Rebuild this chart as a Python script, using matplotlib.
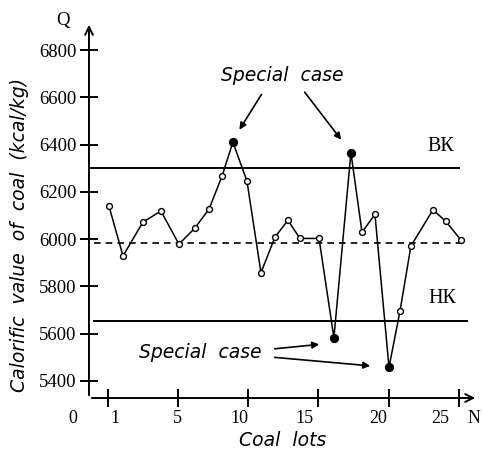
import numpy as np
import matplotlib
matplotlib.use('Agg')
import matplotlib.pyplot as plt

# coal lot numbers and where each one sits along the (hand drawn) x axis
lots = np.arange(1, 26)
lot_pos = [0.09, 1.09, 2.51, 3.79, 5.07, 6.21, 7.21, 8.13, 8.91, 9.91,
           10.91, 11.90, 12.83, 13.68, 15.04, 16.10, 17.31, 18.10, 19.02, 20.02,
           20.80, 21.58, 23.15, 24.07, 25.14]
calorific = [6140, 5929, 6072, 6119, 5979, 6047, 6127, 6265, 6410, 6246,
             5858, 6008, 6080, 6003, 6003, 5583, 6366, 6029, 6105, 5458,
             5695, 5971, 6124, 6075, 5996]
special_lots = [9, 16, 17, 20]

upper_limit = 6303
lower_limit = 5655
mean_level = 5984

y_ticks = [5400, 5600, 5800, 6000, 6200, 6400, 6600, 6800]
x_tick_pos = [0, 5, 10, 15, 20, 25]
x_label_txt = ['0', '1', '5', '10', '15', '20', '25', 'N']
x_label_pos = [-2.47, 0.52, 4.93, 9.41, 14.04, 19.23, 23.65, 26.07]

serif = 'Liberation Serif'
label_font = dict(family='DejaVu Sans', style='italic', fontsize=13.5)

fig = plt.figure(figsize=(4.82, 4.54), dpi=100)
ax = fig.add_axes([0.1846, 0.1233, 0.807, 0.828])
ax.set_xlim(-1.33, 26.35)
ax.set_ylim(5328, 6918)
for s in ax.spines.values():
    s.set_visible(False)

# axes with arrow heads
ax.annotate('', xy=(-1.33, 6918), xytext=(-1.33, 5328),
            arrowprops=dict(arrowstyle='->', lw=1.4, color='black', mutation_scale=14),
            annotation_clip=False)
ax.annotate('', xy=(26.35, 5328), xytext=(-1.33, 5328),
            arrowprops=dict(arrowstyle='->', lw=1.4, color='black', mutation_scale=14),
            annotation_clip=False)

ax.set_yticks(y_ticks)
ax.set_yticklabels([str(v) for v in y_ticks], family=serif, fontsize=13.5)
ax.tick_params(axis='y', direction='inout', length=13.5, width=1.4, pad=2.5)
ax.set_xticks(x_tick_pos)
ax.set_xticklabels([])
ax.tick_params(axis='x', direction='inout', length=12.5, width=1.4)
for t, p in zip(x_label_txt, x_label_pos):
    ax.text(p, 5240, t, family=serif, fontsize=13, ha='center', va='center',
            clip_on=False)
ax.text(-3.19, 6923, 'Q', family=serif, fontsize=13.5, ha='center', va='center',
        clip_on=False)

# control lines
ax.plot([-1.33, 25.0], [upper_limit, upper_limit], color='black', lw=1.4)
ax.plot([-1.0, 25.6], [lower_limit, lower_limit], color='black', lw=1.4)
ax.plot([-1.0, 25.4], [mean_level, mean_level], color='black', lw=1.2,
        ls=(0, (4, 3)))
ax.text(23.7, 6390, 'ВК', family=serif, fontsize=14.5, ha='center', va='center')
ax.text(23.8, 5751, 'НК', family=serif, fontsize=14.5, ha='center', va='center')

# data
ax.plot(lot_pos, calorific, color='black', lw=1.1, zorder=3)
normal = [i for i, n in enumerate(lots) if n not in special_lots]
special = [i for i, n in enumerate(lots) if n in special_lots]
ax.scatter([lot_pos[i] for i in normal], [calorific[i] for i in normal],
           s=18, facecolor='white', edgecolor='black', lw=1.0, zorder=4)
ax.scatter([lot_pos[i] for i in special], [calorific[i] for i in special],
           s=32, color='black', zorder=4)

# annotations
arrow = dict(arrowstyle='-|>', lw=1.2, color='black', mutation_scale=10)
ax.text(12.40, 6694, 'Special  case', ha='center', va='center', **label_font)
ax.annotate('', xy=(9.27, 6453), xytext=(11.05, 6622), arrowprops=arrow)
ax.annotate('', xy=(16.74, 6411), xytext=(13.90, 6631), arrowprops=arrow)
ax.text(6.57, 5522, 'Special  case', ha='center', va='center', **label_font)
ax.annotate('', xy=(15.25, 5556), xytext=(11.69, 5535), arrowprops=arrow)
ax.annotate('', xy=(18.88, 5463), xytext=(11.69, 5501), arrowprops=arrow)

fig.text(20 / 482, 1 - 235 / 454, 'Calorific  value  of  coal  (kcal/kg)',
         rotation=90, ha='center', va='center', **label_font)
fig.text(283 / 482, 1 - 441 / 454, 'Coal  lots', ha='center', va='center',
         **label_font)

fig.savefig('out.png', dpi=100)
